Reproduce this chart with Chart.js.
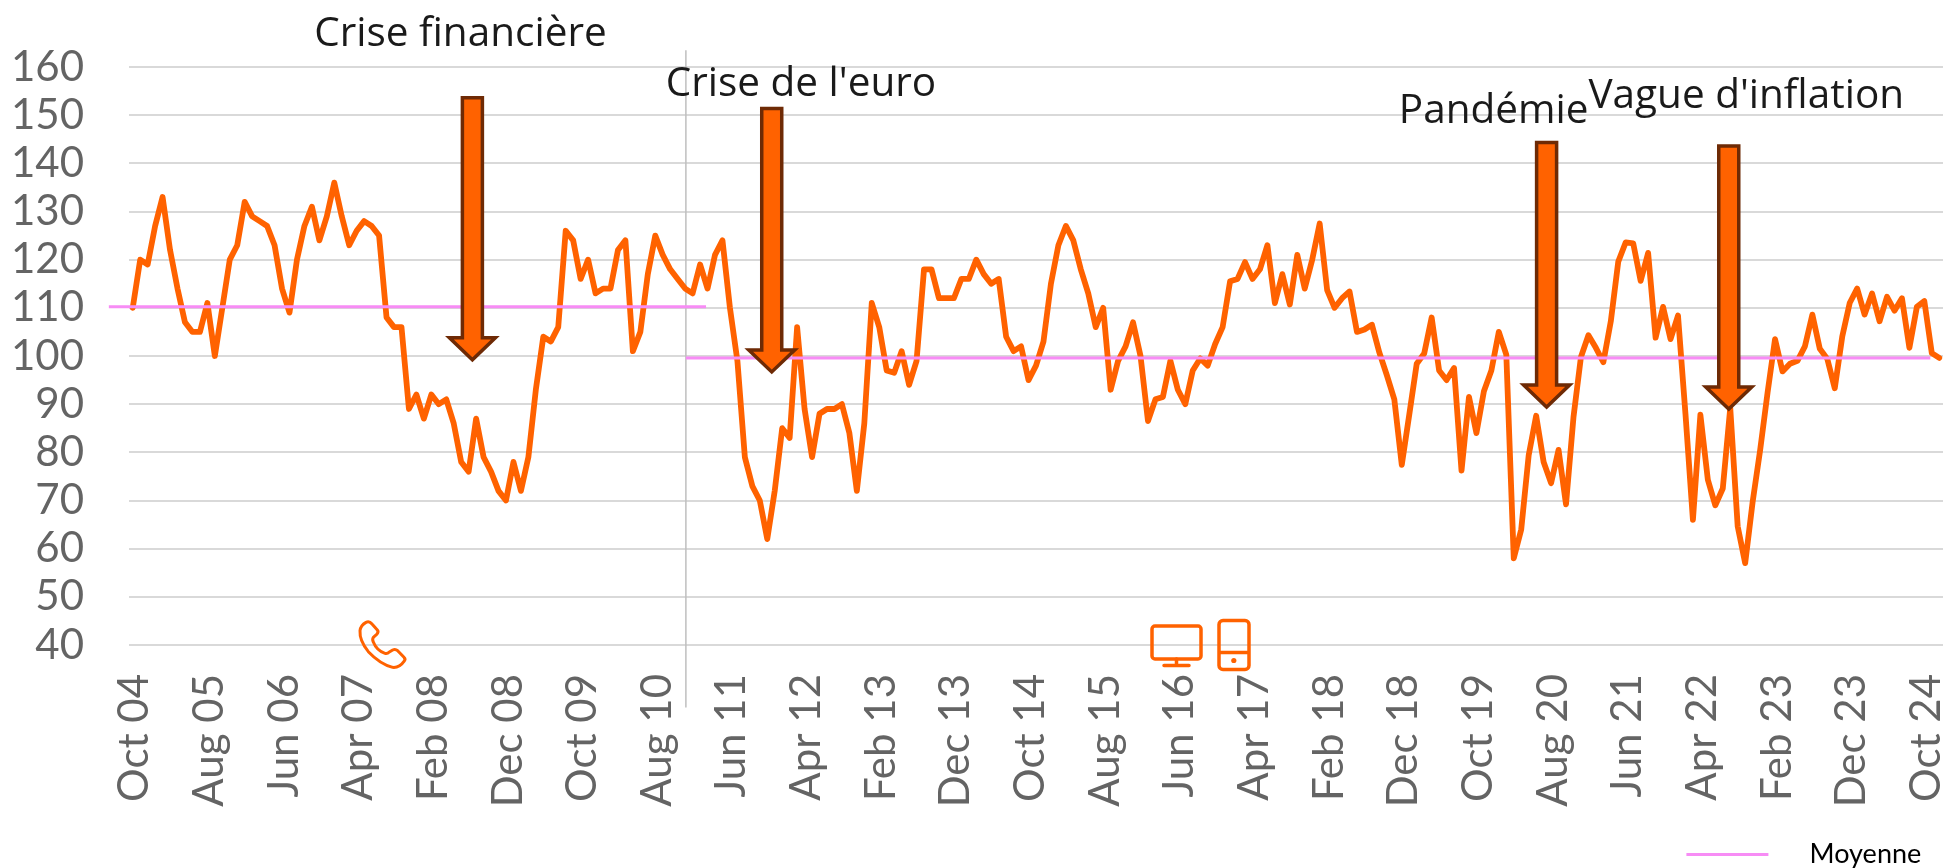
<!DOCTYPE html>
<html lang="fr">
<head>
<meta charset="utf-8">
<title>Crises</title>
<script src="https://cdn.jsdelivr.net/npm/chart.js@4"></script>
<style>
  html, body { margin: 0; padding: 0; background: #fff; }
  canvas { display: block; }
</style>
</head>
<body>
<canvas id="chart" width="1949" height="868"></canvas>
<script>
// Valeurs mensuelles (oct. 2004 a dec. 2024)
const values = [
  110, 120, 119, 127, 133, 122, 114, 107, 105, 105, 111, 100, 110, 120, 123, 132, 129, 128, 127, 123,
  114, 109, 120, 127, 131, 124, 129, 136, 129, 123, 126, 128, 127, 125, 108, 106, 106, 89, 92, 87,
  92, 90, 91, 86, 78, 76, 87, 79, 76, 72, 70, 78, 72, 79, 93, 104, 103, 106, 126, 124,
  116, 120, 113, 114, 114, 122, 124, 101, 105, 117, 125, 121, 118, 116, 114, 113, 119, 114, 121, 124,
  110, 99, 79, 73, 70, 62, 72, 85, 83, 106, 89, 79, 88, 89, 89, 90, 84, 72, 86, 111,
  106, 97, 96.5, 101, 94, 99, 118, 118, 112, 112, 112, 116, 116, 120, 117, 115, 116, 104, 101, 102,
  95, 98, 103, 115, 123, 127, 124, 118, 113, 106, 110, 93, 99, 102, 107, 100, 86.5, 91, 91.5, 99,
  93, 90, 97, 99.5, 98, 102.5, 106, 115.5, 116, 119.5, 116, 118, 123, 111, 117, 110.7, 121, 114, 120, 127.5,
  113.7, 110, 112, 113.4, 105, 105.5, 106.5, 100.7, 96, 91, 77.4, 87.8, 98.4, 100.5, 108, 97, 95, 97.5, 76.2, 91.5,
  84, 92.7, 97, 105, 100.3, 58, 64, 79.4, 87.6, 78, 73.6, 80.5, 69.2, 87.3, 99.8, 104.3, 101.7, 98.7, 107.2, 119.6,
  123.6, 123.4, 115.6, 121.4, 103.8, 110.2, 103.5, 108.4, 88, 66, 87.8, 74.3, 69, 72.5, 89.2, 64.6, 57, 69.7, 80.4, 92.4,
  103.5, 96.8, 98.4, 99, 102, 108.6, 101.5, 99.4, 93.3, 104, 111, 114, 108.6, 113, 107.2, 112.3, 109.4, 112, 101.7, 110.2,
  111.4, 100.6, 99.6
];

// Une etiquette tous les 10 mois
const tickLabels = [
  'Oct 04', 'Aug 05', 'Jun 06', 'Apr 07', 'Feb 08', 'Dec 08', 'Oct 09', 'Aug 10', 'Jun 11',
  'Apr 12', 'Feb 13', 'Dec 13', 'Oct 14', 'Aug 15', 'Jun 16', 'Apr 17', 'Feb 18', 'Dec 18',
  'Oct 19', 'Aug 20', 'Jun 21', 'Apr 22', 'Feb 23', 'Dec 23', 'Oct 24'
];

// Moyennes par periode (deux segments separes par un trou)
const avgX = [-3.2, 76.8, null, 74.1, 240.8];
const avgY = [110.2, 110.2, null, 99.6, 99.6];

// Separation verticale entre les deux periodes
const splitX = [74.1, 74.1];
const splitY = [163.5, 27];

// Fleches et titres, en mois / valeur
const crisisLabels = ['Crise financière', "Crise de l'euro", 'Pandémie', "Vague d'inflation"];
const labelX = [24.3, 71.4, 169.6, 195];
const labelY = [164.4, 154, 148.3, 151.4];
const arrowX = [45.5, 85.6, 189.4, 213.8];
const arrowTop = [153.6, 151.4, 144.3, 143.6];
const arrowTip = [99.2, 96.7, 89.4, 89];

const ORANGE = '#FF6200';
const GREY_TEXT = '#646464';
const textFont = '40.5px "Open Sans"';

function drawArrow(ctx, cx, top, tip) {
  const shaft = 10;
  const wing = 23;
  const headH = 22;
  ctx.beginPath();
  ctx.moveTo(cx - shaft, top);
  ctx.lineTo(cx + shaft, top);
  ctx.lineTo(cx + shaft, tip - headH);
  ctx.lineTo(cx + wing, tip - headH);
  ctx.lineTo(cx, tip);
  ctx.lineTo(cx - wing, tip - headH);
  ctx.lineTo(cx - shaft, tip - headH);
  ctx.closePath();
  ctx.fillStyle = ORANGE;
  ctx.fill();
  ctx.lineWidth = 3.5;
  ctx.strokeStyle = '#6E2A05';
  ctx.lineJoin = 'miter';
  ctx.stroke();
}

// Petites icones en bas du graphique
function drawIcons(ctx) {
  ctx.save();
  ctx.strokeStyle = ORANGE;
  ctx.fillStyle = ORANGE;
  ctx.lineWidth = 3.5;
  ctx.lineJoin = 'round';
  ctx.lineCap = 'round';

  // telephone
  ctx.save();
  ctx.translate(330, 600);
  ctx.scale(1 / 3, 1 / 3);
  ctx.lineWidth = 9;
  ctx.stroke(new Path2D('M108 67 Q118 62 126 72 L142 90 Q147 96 140 103 L130 112 Q126 118 130 126 Q140 152 165 160 Q172 162 178 156 L188 150 Q196 146 203 152 L222 172 Q228 178 222 184 Q208 204 188 202 Q150 192 115 155 Q88 122 90 92 Q92 76 108 67 Z'));
  ctx.restore();

  // ecran
  ctx.beginPath();
  ctx.roundRect(1152, 626, 49, 33, 3);
  ctx.stroke();
  ctx.beginPath();
  ctx.moveTo(1176.5, 659);
  ctx.lineTo(1176.5, 665);
  ctx.moveTo(1164, 665.5);
  ctx.lineTo(1189, 665.5);
  ctx.stroke();

  // tablette
  ctx.beginPath();
  ctx.roundRect(1219, 620.5, 30, 49, 4);
  ctx.moveTo(1219, 652.5);
  ctx.lineTo(1249, 652.5);
  ctx.stroke();
  ctx.beginPath();
  ctx.arc(1233.8, 660.5, 2.6, 0, Math.PI * 2);
  ctx.fill();
  ctx.restore();
}

// Fleches, titres et icones par-dessus les courbes
const annotations = {
  id: 'annotations',
  afterDatasetsDraw(chart) {
    const { ctx, scales } = chart;
    ctx.save();
    arrowX.forEach((x, i) => {
      drawArrow(ctx, scales.x.getPixelForValue(x), scales.y.getPixelForValue(arrowTop[i]), scales.y.getPixelForValue(arrowTip[i]));
    });
    ctx.font = textFont;
    ctx.fillStyle = '#1a1a1a';
    ctx.textAlign = 'left';
    ctx.textBaseline = 'alphabetic';
    crisisLabels.forEach((txt, i) => {
      ctx.fillText(txt, scales.x.getPixelForValue(labelX[i]), scales.y.getPixelForValue(labelY[i]));
    });
    ctx.restore();
    drawIcons(ctx);
  }
};

new Chart(document.getElementById('chart').getContext('2d'), {
  type: 'line',
  data: {
    datasets: [
      {
        label: 'Moyenne',
        data: avgX.map((x, i) => ({ x: x, y: avgY[i] })),
        borderColor: '#F78CF5',
        backgroundColor: '#F78CF5',
        borderWidth: 3,
        pointRadius: 0,
        spanGaps: false,
        clip: false
      },
      {
        label: 'Indice',
        data: values.map((v, i) => ({ x: i, y: v })),
        borderColor: ORANGE,
        borderWidth: 5.8,
        borderJoinStyle: 'round',
        borderCapStyle: 'round',
        pointRadius: 0,
        tension: 0
      },
      {
        label: 'Separation',
        data: splitX.map((x, i) => ({ x: x, y: splitY[i] })),
        borderColor: '#BFBFBF',
        borderWidth: 1.5,
        pointRadius: 0,
        clip: false
      }
    ]
  },
  options: {
    responsive: false,
    animation: false,
    // la legende de Chart.js reserve 10 px de trop sous le texte
    layout: { padding: { top: 67, right: 6, left: 0, bottom: -10 } },
    plugins: {
      title: { display: false },
      tooltip: { enabled: false },
      legend: {
        position: 'bottom',
        align: 'end',
        labels: {
          boxWidth: 82,
          boxHeight: 3,
          padding: 1,
          color: '#7A7A7A',
          font: { family: 'Lato', size: 27, lineHeight: 1 },
          // l'ecart ligne / texte de la legende d'origine est plus large que celui de Chart.js
          generateLabels: () => [{
            text: '\u00a0\u00a0\u00a0\u00a0Moyenne\u00a0\u00a0\u00a0',
            fillStyle: '#F78CF5',
            strokeStyle: '#F78CF5',
            lineWidth: 0,
            datasetIndex: 0
          }]
        }
      }
    },
    scales: {
      x: {
        type: 'linear',
        min: -0.5,
        max: 242.5,
        grid: { display: false },
        border: { display: false },
        afterBuildTicks: s => { s.ticks = tickLabels.map((_, i) => ({ value: i * 10 })); },
        afterFit: s => { s.height = 195; s.paddingLeft = 0; s.paddingRight = 0; },
        ticks: {
          autoSkip: false,
          minRotation: 90,
          maxRotation: 90,
          padding: 21,
          labelOffset: 2,
          color: GREY_TEXT,
          font: { family: 'Lato', size: 42 },
          callback: v => tickLabels[v / 10]
        }
      },
      y: {
        min: 40,
        max: 160,
        grid: { color: '#D9D9D9', lineWidth: 2, drawTicks: false },
        border: { display: false },
        afterFit: s => { s.width = 129; s.paddingTop = 0; s.paddingBottom = 0; },
        ticks: {
          autoSkip: false,
          stepSize: 10,
          padding: 45,
          color: GREY_TEXT,
          font: { family: 'Lato', size: 42 }
        }
      }
    }
  },
  plugins: [annotations]
});
</script>
</body>
</html>
